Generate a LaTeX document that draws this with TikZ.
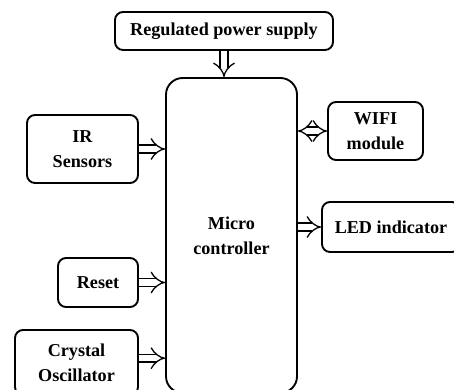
\documentclass[tikz,border=0pt]{standalone}
\usepackage{fontspec}
\setmainfont{Liberation Serif}
\usetikzlibrary{arrows.meta}

\begin{document}
\begin{tikzpicture}[x=1cm,y=1cm,font=\fontsize{15.5}{21}\selectfont\bfseries,
  block/.style={draw=black,line width=1.6pt,rounded corners=0.24cm,fill=white,align=center,inner sep=2pt},
  link/.style={draw=black,line width=1.1pt,double=white,double distance=5.5pt,-{Implies}}]
\useasboundingbox (0,0) rectangle (13.62,-11.7);
\clip (0,0) rectangle (13.62,-11.7);
\node[block,minimum width=6.54cm,minimum height=1.14cm] (power-supply) at (6.72,-0.93) {Regulated power supply};
\node[block,rounded corners=0.5cm,minimum width=3.93cm,minimum height=9.45cm] (mcu) at (6.945,-7.065) {Micro\\controller};
\node[block,minimum width=3.33cm,minimum height=2.04cm] (ir-sensors) at (2.475,-4.47) {IR\\Sensors};
\node[block,minimum width=2.85cm,minimum height=1.74cm] (wifi-module) at (11.265,-3.93) {WIFI\\module};
\node[block,minimum width=4.14cm,minimum height=1.5cm] (led-indicator) at (11.73,-6.81) {LED indicator};
\node[block,minimum width=2.4cm,minimum height=1.47cm] (reset) at (2.94,-8.475) {Reset};
\node[block,minimum width=3.69cm,minimum height=1.95cm] (crystal-osc) at (2.295,-10.875) {Crystal\\Oscillator};
\draw[link] (power-supply.south) -- (power-supply.south |- mcu.north);
\draw[link] (ir-sensors.east) -- (ir-sensors.east -| mcu.west);
\draw[link] (reset.east) -- (reset.east -| mcu.west);
\draw[link] ([yshift=0.13cm]crystal-osc.east) -- ([yshift=0.13cm]crystal-osc.east -| mcu.west);
\draw[link,{Implies}-{Implies}] (wifi-module.west) -- (wifi-module.west -| mcu.east);
\draw[link] (led-indicator.west -| mcu.east) -- (led-indicator.west);
\end{tikzpicture}
\end{document}
